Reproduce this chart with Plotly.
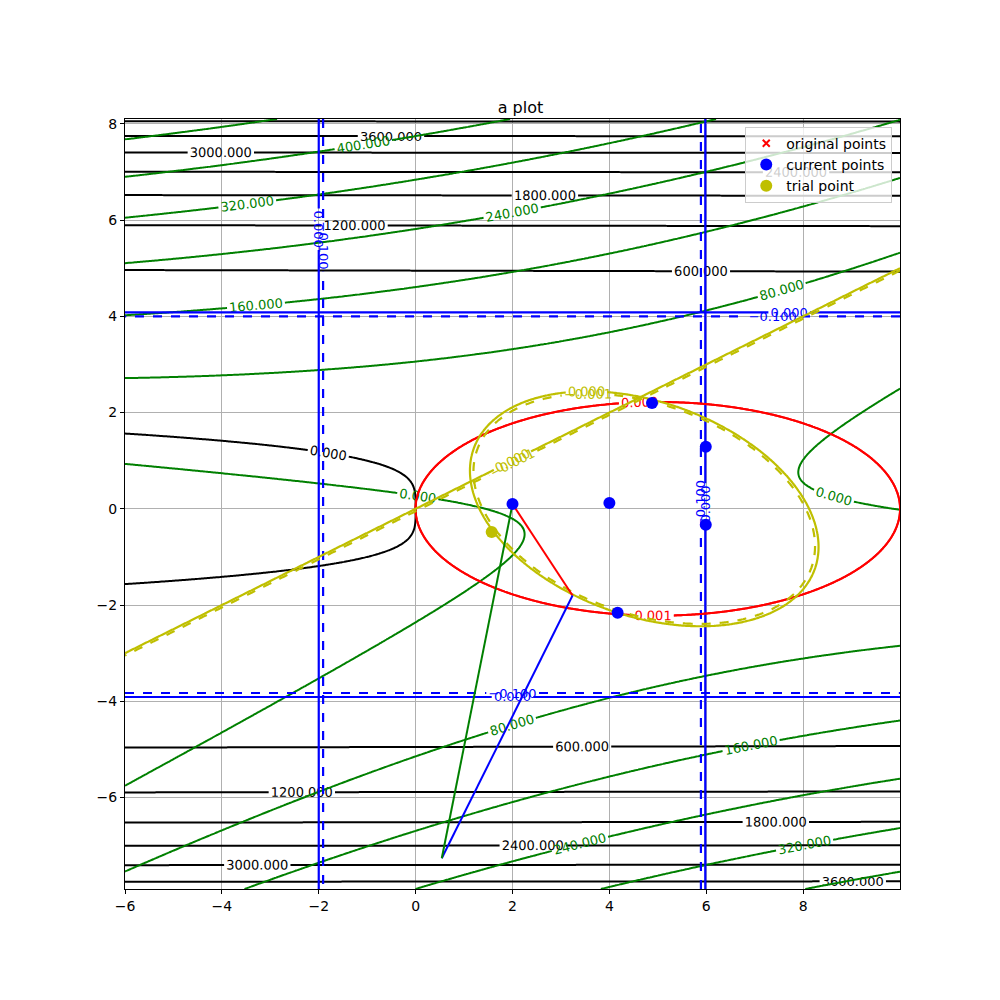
import numpy as np
import plotly.graph_objects as go

# ---------------- data ----------------
X_RANGE = [-6.0, 10.0]
Y_RANGE = [-7.9, 8.1]
X_TICKS = [-6, -4, -2, 0, 2, 4, 6, 8]
Y_TICKS = [-6, -4, -2, 0, 2, 4, 6, 8]

# objective (black): y^4 + x
BLACK_LEVELS = [0, 4200, 600]
# green function: scale*((y - (y0 + slope*(x+6)))^2 - r*(x-v1)*(x-v2))
GREEN_PARAMS = [5.3, -2.41, 0.228, 0.0975, 2.25, 7.9]
GREEN_LEVELS = [0, 480, 80]
# red ellipse: center x, center y, semi-axis x, semi-axis y
RED_ELLIPSE = [5.0, 0.0, 5.0, 2.22]
RED_LEVELS = [0.0, 0.001, 0.001]
# yellow: line slope/intercept and tilted ellipse (cx, cy, A, B, C, K)
YELLOW_LINE = [0.5, 0.0]
YELLOW_ELLIPSE = [4.72, 0.0, 0.46, 0.22, 1.0, 5.33]
YELLOW_SCALE = [0.02, 0.025]
# blue constraints: roots in x and in y, scale
BLUE_X_ROOTS = [-2.0, 5.98]
BLUE_Y_ROOTS = [-3.91, 4.08]
BLUE_SCALE = [7.1, 6.5]

# simplex edges
TRI_RED_X = [2.0, 3.24]
TRI_RED_Y = [0.1, -1.8]
TRI_BLUE_X = [3.24, 0.54]
TRI_BLUE_Y = [-1.8, -7.26]
TRI_GREEN_X = [0.54, 2.0]
TRI_GREEN_Y = [-7.26, 0.1]

# points
ORIG_X = [2.0, 4.0, 4.88, 5.99, 5.99, 4.17]
ORIG_Y = [0.1, 0.12, 2.2, 1.29, -0.33, -2.16]
CUR_X = [2.0, 4.0, 4.88, 5.99, 5.99, 4.17]
CUR_Y = [0.1, 0.12, 2.2, 1.29, -0.33, -2.16]
TRIAL_X = [1.57]
TRIAL_Y = [-0.48]

BLACK = "#000000"
GREEN = "#008000"
RED = "#ff0000"
BLUE = "#0000ff"
YELLOW = "#bfbf00"

# ---------------- grid ----------------
xs = np.linspace(X_RANGE[0], X_RANGE[1], 401)
ys = np.linspace(Y_RANGE[0], Y_RANGE[1], 401)
XX, YY = np.meshgrid(xs, ys)

z_black = YY ** 4 + XX
gs, gy0, gsl, gr, gv1, gv2 = GREEN_PARAMS
z_green = gs * ((YY - (gy0 + gsl * (XX + 6))) ** 2 - gr * (XX - gv1) * (XX - gv2))
rcx, rcy, rax, ray = RED_ELLIPSE
z_red = ((XX - rcx) / rax) ** 2 + ((YY - rcy) / ray) ** 2 - 1
z_yline = YELLOW_SCALE[0] * (YY - (YELLOW_LINE[0] * XX + YELLOW_LINE[1]))
ecx, ecy, eA, eB, eC, eK = YELLOW_ELLIPSE
dx, dy = XX - ecx, YY - ecy
z_yell = YELLOW_SCALE[1] * ((eA * dx ** 2 + 2 * eB * dx * dy + eC * dy ** 2) / eK - 1)
z_bx = (XX - BLUE_X_ROOTS[0]) * (XX - BLUE_X_ROOTS[1]) / BLUE_SCALE[0]
z_by = (YY - BLUE_Y_ROOTS[0]) * (YY - BLUE_Y_ROOTS[1]) / BLUE_SCALE[1]

fig = go.Figure()


def add_contour(z, start, end, size, color, dash="solid", width=2):
    fig.add_trace(go.Contour(
        x=xs, y=ys, z=z,
        autocontour=False,
        contours=dict(start=start, end=end, size=size, coloring="lines",
                      showlabels=True, labelformat=".3f",
                      labelfont=dict(size=13, color=color, family="DejaVu Sans")),
        colorscale=[[0, color], [1, color]],
        line=dict(width=width, dash=dash),
        showscale=False, showlegend=False, hoverinfo="skip",
    ))


add_contour(z_black, BLACK_LEVELS[0], BLACK_LEVELS[1], BLACK_LEVELS[2], BLACK)
add_contour(z_green, GREEN_LEVELS[0], GREEN_LEVELS[1], GREEN_LEVELS[2], GREEN)
add_contour(z_bx, 0, 0, 1, BLUE, width=2.2)
add_contour(z_bx, -0.1, -0.1, 1, BLUE, dash="dash", width=2.2)
add_contour(z_by, 0, 0, 1, BLUE, width=2.2)
add_contour(z_by, -0.1, -0.1, 1, BLUE, dash="dash", width=2.2)
add_contour(z_red, RED_LEVELS[0], RED_LEVELS[1], RED_LEVELS[2], RED)
add_contour(z_yline, 0, 0, 1, YELLOW, width=2.2)
add_contour(z_yline, -0.001, -0.001, 1, YELLOW, dash="dash", width=2.2)
add_contour(z_yell, 0, 0, 1, YELLOW, width=2.2)
add_contour(z_yell, -0.001, -0.001, 1, YELLOW, dash="dash", width=2.2)

for tx, ty, c in [(TRI_RED_X, TRI_RED_Y, RED), (TRI_BLUE_X, TRI_BLUE_Y, BLUE),
                  (TRI_GREEN_X, TRI_GREEN_Y, GREEN)]:
    fig.add_trace(go.Scatter(x=tx, y=ty, mode="lines", line=dict(color=c, width=2),
                             showlegend=False, hoverinfo="skip"))

fig.add_trace(go.Scatter(x=ORIG_X, y=ORIG_Y, mode="markers", name="original points",
                         marker=dict(symbol="x-thin", size=7, color=RED,
                                     line=dict(color=RED, width=2))))
fig.add_trace(go.Scatter(x=CUR_X, y=CUR_Y, mode="markers", name="current points",
                         marker=dict(symbol="circle", size=12, color=BLUE)))
fig.add_trace(go.Scatter(x=TRIAL_X, y=TRIAL_Y, mode="markers", name="trial point",
                         marker=dict(symbol="circle", size=12, color=YELLOW)))

axis_common = dict(showgrid=True, gridcolor="#b0b0b0", gridwidth=1,
                   showline=True, linecolor="black", linewidth=1, mirror=True,
                   ticks="outside", ticklen=4, tickcolor="black",
                   tickfont=dict(size=14, color="black", family="DejaVu Sans"),
                   zeroline=False)
fig.update_xaxes(range=X_RANGE, tickvals=X_TICKS, **axis_common)
fig.update_yaxes(range=Y_RANGE, tickvals=Y_TICKS, **axis_common)

fig.update_layout(
    width=1000, height=1000,
    margin=dict(l=117, r=108, t=111, b=119),
    paper_bgcolor="white", plot_bgcolor="white",
    title=dict(text="a plot", x=0.5125, xanchor="center", y=0.895, yanchor="bottom",
               font=dict(size=16, color="black", family="DejaVu Sans")),
    font=dict(family="DejaVu Sans"),
    legend=dict(x=0.99, y=0.99, xanchor="right", yanchor="top",
                bgcolor="rgba(255,255,255,0.8)", bordercolor="#cccccc", borderwidth=1,
                font=dict(size=14, color="black")),
)

fig.write_html("out.html")
